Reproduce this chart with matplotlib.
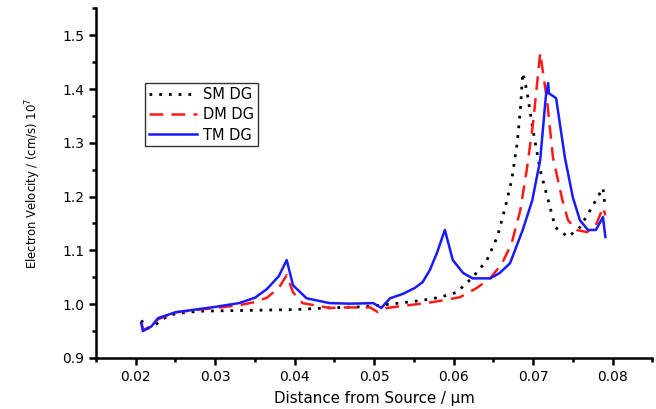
import numpy as np
import matplotlib
matplotlib.use('Agg')
import matplotlib.pyplot as plt
from matplotlib.ticker import MultipleLocator

plt.rcParams['font.family'] = ['DejaVu Sans']

# SM DG (dotted black)
sm_x = [0.0207, 0.0215, 0.0225, 0.0240, 0.0252, 0.0280, 0.0320, 0.0360, 0.0400, 0.0440,
        0.0480, 0.0500, 0.0520, 0.0560, 0.0583, 0.0604, 0.0624, 0.0642, 0.0655, 0.0665,
        0.0673, 0.0680, 0.0684, 0.0687, 0.0692, 0.0700, 0.0709, 0.0718, 0.0728, 0.0744,
        0.0759, 0.0772, 0.0784, 0.0788, 0.0790]
sm_y = [0.970, 0.955, 0.962, 0.978, 0.983, 0.987, 0.988, 0.989, 0.990, 0.993,
        0.995, 0.997, 1.000, 1.007, 1.013, 1.022, 1.050, 1.082, 1.125, 1.180,
        1.230, 1.299, 1.361, 1.430, 1.398, 1.323, 1.249, 1.199, 1.143, 1.125,
        1.143, 1.175, 1.206, 1.216, 1.190]

# DM DG (dashed red)
dm_x = [0.0207, 0.0210, 0.0220, 0.0228, 0.0250, 0.0300, 0.0330, 0.0350, 0.0365, 0.0380,
        0.0390, 0.0398, 0.0410, 0.0444, 0.0470, 0.0495, 0.0505, 0.0516, 0.0532, 0.0554,
        0.0574, 0.0593, 0.0608, 0.0629, 0.0646, 0.0661, 0.0673, 0.0684, 0.0692, 0.0700,
        0.0709, 0.0718, 0.0725, 0.0737, 0.0744, 0.0755, 0.0768, 0.0780, 0.0788, 0.0791]
dm_y = [0.965, 0.952, 0.960, 0.972, 0.985, 0.993, 0.998, 1.004, 1.012, 1.030,
        1.054, 1.022, 1.002, 0.993, 0.994, 0.994, 0.985, 0.993, 0.996, 1.000,
        1.004, 1.009, 1.013, 1.030, 1.048, 1.076, 1.113, 1.175, 1.249, 1.336,
        1.467, 1.374, 1.273, 1.193, 1.156, 1.138, 1.134, 1.150, 1.180, 1.165]

# TM DG (solid blue)
tm_x = [0.0207, 0.0209, 0.0220, 0.0228, 0.0250, 0.0300, 0.0330, 0.0350, 0.0365, 0.0380,
        0.0390, 0.0398, 0.0415, 0.0444, 0.0470, 0.0499, 0.0509, 0.0520, 0.0536, 0.0551,
        0.0561, 0.0570, 0.0579, 0.0589, 0.0599, 0.0612, 0.0624, 0.0646, 0.0658, 0.0671,
        0.0687, 0.0699, 0.0709, 0.0716, 0.0719, 0.0720, 0.0729, 0.0740, 0.0750, 0.0759,
        0.0769, 0.0779, 0.0788, 0.0791]
tm_y = [0.965, 0.950, 0.959, 0.974, 0.985, 0.995, 1.002, 1.012, 1.028, 1.052,
        1.082, 1.035, 1.011, 1.002, 1.001, 1.002, 0.993, 1.011, 1.019, 1.030,
        1.041, 1.063, 1.095, 1.138, 1.082, 1.058, 1.048, 1.048, 1.058, 1.076,
        1.138, 1.193, 1.268, 1.385, 1.411, 1.392, 1.383, 1.273, 1.199, 1.156,
        1.138, 1.138, 1.162, 1.125]

x_ticks = [0.02, 0.03, 0.04, 0.05, 0.06, 0.07, 0.08]
x_labels = ['0.02', '0.03', '0.04', '0.05', '0.06', '0.07', '0.08']
y_ticks = [0.9, 1.0, 1.1, 1.2, 1.3, 1.4, 1.5]
y_labels = ['0.9', '1.0', '1.1', '1.2', '1.3', '1.4', '1.5']

fig = plt.figure(figsize=(6.56, 4.09), dpi=100)
ax = fig.add_axes([0.1463, 0.1247, 0.848, 0.855])

ax.plot(sm_x, sm_y, color='black', linestyle=(0, (1, 2.5)), linewidth=2, label='SM DG')
ax.plot(dm_x, dm_y, color='#ff1a1a', linestyle=(0, (5.5, 3.3)), linewidth=1.8, label='DM DG')
ax.plot(tm_x, tm_y, color='#1a1aff', linestyle='-', linewidth=1.8, label='TM DG')

ax.set_xlim(0.015, 0.085)
ax.set_ylim(0.9, 1.55)
ax.xaxis.set_minor_locator(MultipleLocator(0.005))
ax.yaxis.set_minor_locator(MultipleLocator(0.05))
ax.set_xticks(x_ticks)
ax.set_xticklabels(x_labels)
ax.set_yticks(y_ticks)
ax.set_yticklabels(y_labels)

for s in ['top', 'right']:
    ax.spines[s].set_visible(False)
for s in ['left', 'bottom']:
    ax.spines[s].set_linewidth(1.8)
ax.tick_params(which='major', direction='out', length=5, width=1.8, labelsize=10)
ax.tick_params(which='minor', direction='out', length=3, width=1.8)

ax.set_xlabel('Distance from Source / \u03bcm', fontsize=10.8, labelpad=5)
ax.set_ylabel('Electron Velocity / (cm/s) 10$^{7}$', fontsize=8.4, labelpad=14)

leg = ax.legend(loc='upper left', bbox_to_anchor=(0.088, 0.786), fontsize=10.5,
                frameon=True, fancybox=False, edgecolor='black', handlelength=3.3,
                borderpad=0.25, labelspacing=0.37, handletextpad=0.45, borderaxespad=0)
leg.get_frame().set_linewidth(1.0)

fig.savefig('out.png', dpi=100)
